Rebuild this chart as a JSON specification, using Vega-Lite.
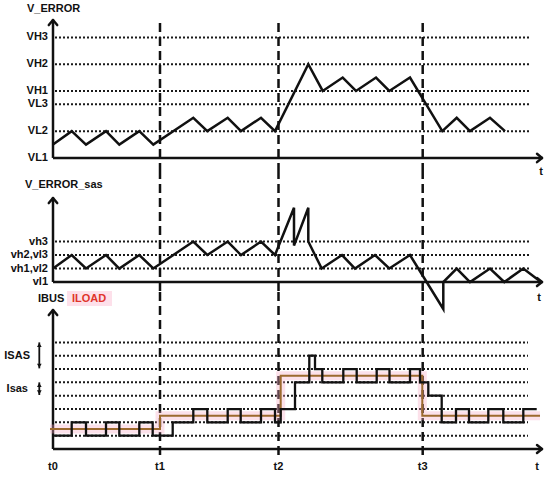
{
  "$schema": "https://vega.github.io/schema/vega-lite/v6.json",
  "padding": 0,
  "spacing": 0,
  "bounds": "flush",
  "background": "white",
  "config": {
    "view": {"stroke": null},
    "text": {"font": "Liberation Sans", "fontWeight": "bold", "fontSize": 11, "color": "#111", "baseline": "middle"}
  },
  "datasets": {
    "anno": [{}],
    "levels": [
      {"panel": 1, "label": "VH3", "level": 9},
      {"panel": 1, "label": "VH2", "level": 7},
      {"panel": 1, "label": "VH1", "level": 5},
      {"panel": 1, "label": "VL3", "level": 4},
      {"panel": 1, "label": "VL2", "level": 2},
      {"panel": 1, "label": "VL1", "level": 0},
      {"panel": 2, "label": "vh3", "level": 3},
      {"panel": 2, "label": "vh2,vl3", "level": 2},
      {"panel": 2, "label": "vh1,vl2", "level": 1},
      {"panel": 2, "label": "vl1", "level": 0},
      {"panel": 3, "label": "", "level": 1},
      {"panel": 3, "label": "", "level": 2},
      {"panel": 3, "label": "", "level": 3},
      {"panel": 3, "label": "", "level": 4},
      {"panel": 3, "label": "", "level": 5},
      {"panel": 3, "label": "", "level": 6},
      {"panel": 3, "label": "", "level": 7},
      {"panel": 3, "label": "", "level": 8}
    ],
    "times": [
      {"label": "t0", "t": 0},
      {"label": "t1", "t": 10.7},
      {"label": "t2", "t": 22.55},
      {"label": "t3", "t": 36.97}
    ],
    "verror": [
      {"t": 0, "v": 1}, {"t": 1.87, "v": 2}, {"t": 3.3, "v": 1}, {"t": 5.3, "v": 2},
      {"t": 6.63, "v": 1}, {"t": 8.63, "v": 2}, {"t": 10.03, "v": 1}, {"t": 14.03, "v": 3},
      {"t": 15.43, "v": 2}, {"t": 17.47, "v": 3}, {"t": 18.8, "v": 2}, {"t": 20.8, "v": 3},
      {"t": 22.2, "v": 2}, {"t": 25.53, "v": 7}, {"t": 26.97, "v": 5}, {"t": 28.97, "v": 6},
      {"t": 30.3, "v": 5}, {"t": 32.3, "v": 6}, {"t": 33.63, "v": 5}, {"t": 35.7, "v": 6},
      {"t": 38.93, "v": 2}, {"t": 40.37, "v": 3}, {"t": 41.7, "v": 2}, {"t": 43.7, "v": 3},
      {"t": 45.2, "v": 2}
    ],
    "verror_sas": [
      {"t": 0, "v": 1}, {"t": 1.87, "v": 2}, {"t": 3.3, "v": 1}, {"t": 5.3, "v": 2},
      {"t": 6.63, "v": 1}, {"t": 8.63, "v": 2}, {"t": 10.03, "v": 1}, {"t": 14.03, "v": 3},
      {"t": 15.43, "v": 2}, {"t": 17.47, "v": 3}, {"t": 18.8, "v": 2}, {"t": 20.8, "v": 3},
      {"t": 22.2, "v": 2}, {"t": 24.1, "v": 5.5}, {"t": 24.1, "v": 2.7}, {"t": 25.53, "v": 5.5},
      {"t": 25.53, "v": 3}, {"t": 26.87, "v": 1}, {"t": 28.9, "v": 2}, {"t": 30.2, "v": 1},
      {"t": 32.2, "v": 2}, {"t": 33.63, "v": 1}, {"t": 35.7, "v": 2}, {"t": 39.03, "v": -2},
      {"t": 39.03, "v": 0}, {"t": 40.37, "v": 1}, {"t": 41.7, "v": 0}, {"t": 43.7, "v": 1},
      {"t": 45.13, "v": 0}, {"t": 47.03, "v": 1}, {"t": 48.8, "v": 0}
    ],
    "ibus": [
      {"t": 0, "i": 1}, {"t": 1.87, "i": 2}, {"t": 3.3, "i": 1}, {"t": 5.3, "i": 2},
      {"t": 6.63, "i": 1}, {"t": 8.63, "i": 2}, {"t": 9.97, "i": 1}, {"t": 11.97, "i": 2},
      {"t": 14.03, "i": 3}, {"t": 15.43, "i": 2}, {"t": 17.47, "i": 3}, {"t": 18.77, "i": 2},
      {"t": 20.8, "i": 3}, {"t": 22.2, "i": 2}, {"t": 22.77, "i": 3}, {"t": 24.2, "i": 5},
      {"t": 25.63, "i": 7}, {"t": 26.2, "i": 6}, {"t": 26.93, "i": 5}, {"t": 29.03, "i": 6},
      {"t": 30.37, "i": 5}, {"t": 32.37, "i": 6}, {"t": 33.65, "i": 5}, {"t": 35.7, "i": 6},
      {"t": 36.7, "i": 5}, {"t": 37.53, "i": 4}, {"t": 38.87, "i": 2}, {"t": 40.3, "i": 3},
      {"t": 41.6, "i": 2}, {"t": 43.53, "i": 3}, {"t": 45.03, "i": 2}, {"t": 47.03, "i": 3},
      {"t": 48.37, "i": 3}
    ],
    "iload": [
      {"t": -0.3, "i": 1.5}, {"t": 10.7, "i": 2.5}, {"t": 22.77, "i": 5.5},
      {"t": 36.93, "i": 2.5}, {"t": 48.7, "i": 2.5}
    ]
  },
  "vconcat": [
    {
      "width": 550,
      "height": 170,
      "layer": [
        {
          "data": {"name": "levels"},
          "transform": [{"filter": "datum.panel == 1 && datum.level > 0"}],
          "mark": {"type": "rule", "strokeDash": [2, 2], "strokeWidth": 2, "color": "#1a1a1a"},
          "encoding": {
            "y": {"field": "level", "type": "quantitative", "scale": {"domain": [-0.9, 11.79], "nice": false, "zero": false}, "axis": null},
            "x": {"datum": 0.2, "type": "quantitative", "scale": {"domain": [-5.3, 49.7], "nice": false, "zero": false}, "axis": null},
            "x2": {"datum": 47.7}
          }
        },
        {
          "data": {"name": "levels"},
          "transform": [{"filter": "datum.panel == 1"}],
          "mark": {"type": "text", "align": "right"},
          "encoding": {
            "y": {"field": "level", "type": "quantitative", "scale": {"domain": [-0.9, 11.79], "nice": false, "zero": false}, "axis": null},
            "x": {"datum": -0.5, "type": "quantitative", "scale": {"domain": [-5.3, 49.7], "nice": false, "zero": false}, "axis": null},
            "text": {"field": "label"}
          }
        },
        {
          "data": {"name": "times"},
          "transform": [{"filter": "datum.t > 0"}],
          "mark": {"type": "rule", "strokeDash": [9, 5], "strokeWidth": 2.5, "color": "#111"},
          "encoding": {
            "x": {"field": "t", "type": "quantitative", "scale": {"domain": [-5.3, 49.7], "nice": false, "zero": false}, "axis": null},
            "y": {"datum": 10.07, "type": "quantitative", "scale": {"domain": [-0.9, 11.79], "nice": false, "zero": false}, "axis": null},
            "y2": {"datum": -0.9}
          }
        },
        {
          "data": {"name": "anno"},
          "mark": {"type": "rule", "strokeWidth": 2.5, "color": "#111"},
          "encoding": {
            "x": {"datum": 0, "type": "quantitative", "scale": {"domain": [-5.3, 49.7], "nice": false, "zero": false}, "axis": null},
            "x2": {"datum": 48.85},
            "y": {"datum": 0, "type": "quantitative", "scale": {"domain": [-0.9, 11.79], "nice": false, "zero": false}, "axis": null}
          }
        },
        {
          "data": {"name": "anno"},
          "mark": {"type": "rule", "strokeWidth": 2.5, "color": "#111"},
          "encoding": {
            "x": {"datum": 0, "type": "quantitative", "scale": {"domain": [-5.3, 49.7], "nice": false, "zero": false}, "axis": null},
            "y": {"datum": 0, "type": "quantitative", "scale": {"domain": [-0.9, 11.79], "nice": false, "zero": false}, "axis": null},
            "y2": {"datum": 10.3}
          }
        },
        {
          "data": {"name": "anno"},
          "mark": {"type": "rule", "strokeWidth": 2.5, "color": "#111", "strokeCap": "round"},
          "encoding": {
            "x": {"datum": 0, "type": "quantitative", "scale": {"domain": [-5.3, 49.7], "nice": false, "zero": false}, "axis": null},
            "x2": {"datum": -0.42},
            "y": {"datum": 10.3, "type": "quantitative", "scale": {"domain": [-0.9, 11.79], "nice": false, "zero": false}, "axis": null},
            "y2": {"datum": 9.92}
          }
        },
        {
          "data": {"name": "anno"},
          "mark": {"type": "rule", "strokeWidth": 2.5, "color": "#111", "strokeCap": "round"},
          "encoding": {
            "x": {"datum": 0, "type": "quantitative", "scale": {"domain": [-5.3, 49.7], "nice": false, "zero": false}, "axis": null},
            "x2": {"datum": 0.42},
            "y": {"datum": 10.3, "type": "quantitative", "scale": {"domain": [-0.9, 11.79], "nice": false, "zero": false}, "axis": null},
            "y2": {"datum": 9.92}
          }
        },
        {
          "data": {"name": "anno"},
          "mark": {"type": "rule", "strokeWidth": 2.5, "color": "#111", "strokeCap": "round"},
          "encoding": {
            "x": {"datum": 48.9, "type": "quantitative", "scale": {"domain": [-5.3, 49.7], "nice": false, "zero": false}, "axis": null},
            "x2": {"datum": 48.4},
            "y": {"datum": 0, "type": "quantitative", "scale": {"domain": [-0.9, 11.79], "nice": false, "zero": false}, "axis": null},
            "y2": {"datum": 0.31}
          }
        },
        {
          "data": {"name": "anno"},
          "mark": {"type": "rule", "strokeWidth": 2.5, "color": "#111", "strokeCap": "round"},
          "encoding": {
            "x": {"datum": 48.9, "type": "quantitative", "scale": {"domain": [-5.3, 49.7], "nice": false, "zero": false}, "axis": null},
            "x2": {"datum": 48.4},
            "y": {"datum": 0, "type": "quantitative", "scale": {"domain": [-0.9, 11.79], "nice": false, "zero": false}, "axis": null},
            "y2": {"datum": -0.31}
          }
        },
        {
          "data": {"name": "verror"},
          "mark": {"type": "line", "strokeWidth": 2.5, "color": "#111"},
          "encoding": {
            "x": {"field": "t", "type": "quantitative", "scale": {"domain": [-5.3, 49.7], "nice": false, "zero": false}, "axis": null},
            "y": {"field": "v", "type": "quantitative", "scale": {"domain": [-0.9, 11.79], "nice": false, "zero": false}, "axis": null},
            "order": {"value": null}
          }
        },
        {
          "data": {"name": "anno"},
          "mark": {"type": "text", "align": "left"},
          "encoding": {
            "x": {"datum": -2.6, "type": "quantitative", "scale": {"domain": [-5.3, 49.7], "nice": false, "zero": false}, "axis": null},
            "y": {"datum": 11.1, "type": "quantitative", "scale": {"domain": [-0.9, 11.79], "nice": false, "zero": false}, "axis": null},
            "text": {"value": "V_ERROR"}
          }
        },
        {
          "data": {"name": "anno"},
          "mark": {"type": "text", "align": "center"},
          "encoding": {
            "x": {"datum": 48.8, "type": "quantitative", "scale": {"domain": [-5.3, 49.7], "nice": false, "zero": false}, "axis": null},
            "y": {"datum": -1.04, "type": "quantitative", "scale": {"domain": [-0.9, 11.79], "nice": false, "zero": false}, "axis": null},
            "text": {"value": "t"}
          }
        }
      ]
    },
    {
      "width": 550,
      "height": 122,
      "layer": [
        {
          "data": {"name": "levels"},
          "transform": [{"filter": "datum.panel == 2 && datum.level > 0"}],
          "mark": {"type": "rule", "strokeDash": [2, 2], "strokeWidth": 2, "color": "#1a1a1a"},
          "encoding": {
            "y": {"field": "level", "type": "quantitative", "scale": {"domain": [-0.74, 8.3], "nice": false, "zero": false}, "axis": null},
            "x": {"datum": 0.2, "type": "quantitative", "scale": {"domain": [-5.3, 49.7], "nice": false, "zero": false}, "axis": null},
            "x2": {"datum": 47.7}
          }
        },
        {
          "data": {"name": "levels"},
          "transform": [{"filter": "datum.panel == 2"}],
          "mark": {"type": "text", "align": "right"},
          "encoding": {
            "y": {"field": "level", "type": "quantitative", "scale": {"domain": [-0.74, 8.3], "nice": false, "zero": false}, "axis": null},
            "x": {"datum": -0.5, "type": "quantitative", "scale": {"domain": [-5.3, 49.7], "nice": false, "zero": false}, "axis": null},
            "text": {"field": "label"}
          }
        },
        {
          "data": {"name": "times"},
          "transform": [{"filter": "datum.t > 0"}],
          "mark": {"type": "rule", "strokeDash": [9, 5], "strokeWidth": 2.5, "color": "#111"},
          "encoding": {
            "x": {"field": "t", "type": "quantitative", "scale": {"domain": [-5.3, 49.7], "nice": false, "zero": false}, "axis": null},
            "y": {"datum": 8.3, "type": "quantitative", "scale": {"domain": [-0.74, 8.3], "nice": false, "zero": false}, "axis": null},
            "y2": {"datum": -0.74}
          }
        },
        {
          "data": {"name": "anno"},
          "mark": {"type": "rule", "strokeWidth": 2.5, "color": "#111"},
          "encoding": {
            "x": {"datum": 0, "type": "quantitative", "scale": {"domain": [-5.3, 49.7], "nice": false, "zero": false}, "axis": null},
            "x2": {"datum": 48.85},
            "y": {"datum": 0, "type": "quantitative", "scale": {"domain": [-0.74, 8.3], "nice": false, "zero": false}, "axis": null}
          }
        },
        {
          "data": {"name": "anno"},
          "mark": {"type": "rule", "strokeWidth": 2.5, "color": "#111"},
          "encoding": {
            "x": {"datum": 0, "type": "quantitative", "scale": {"domain": [-5.3, 49.7], "nice": false, "zero": false}, "axis": null},
            "y": {"datum": 0, "type": "quantitative", "scale": {"domain": [-0.74, 8.3], "nice": false, "zero": false}, "axis": null},
            "y2": {"datum": 6.22}
          }
        },
        {
          "data": {"name": "anno"},
          "mark": {"type": "rule", "strokeWidth": 2.5, "color": "#111", "strokeCap": "round"},
          "encoding": {
            "x": {"datum": 0, "type": "quantitative", "scale": {"domain": [-5.3, 49.7], "nice": false, "zero": false}, "axis": null},
            "x2": {"datum": -0.42},
            "y": {"datum": 6.22, "type": "quantitative", "scale": {"domain": [-0.74, 8.3], "nice": false, "zero": false}, "axis": null},
            "y2": {"datum": 5.85}
          }
        },
        {
          "data": {"name": "anno"},
          "mark": {"type": "rule", "strokeWidth": 2.5, "color": "#111", "strokeCap": "round"},
          "encoding": {
            "x": {"datum": 0, "type": "quantitative", "scale": {"domain": [-5.3, 49.7], "nice": false, "zero": false}, "axis": null},
            "x2": {"datum": 0.42},
            "y": {"datum": 6.22, "type": "quantitative", "scale": {"domain": [-0.74, 8.3], "nice": false, "zero": false}, "axis": null},
            "y2": {"datum": 5.85}
          }
        },
        {
          "data": {"name": "anno"},
          "mark": {"type": "rule", "strokeWidth": 2.5, "color": "#111", "strokeCap": "round"},
          "encoding": {
            "x": {"datum": 48.9, "type": "quantitative", "scale": {"domain": [-5.3, 49.7], "nice": false, "zero": false}, "axis": null},
            "x2": {"datum": 48.4},
            "y": {"datum": 0, "type": "quantitative", "scale": {"domain": [-0.74, 8.3], "nice": false, "zero": false}, "axis": null},
            "y2": {"datum": 0.3}
          }
        },
        {
          "data": {"name": "anno"},
          "mark": {"type": "rule", "strokeWidth": 2.5, "color": "#111", "strokeCap": "round"},
          "encoding": {
            "x": {"datum": 48.9, "type": "quantitative", "scale": {"domain": [-5.3, 49.7], "nice": false, "zero": false}, "axis": null},
            "x2": {"datum": 48.4},
            "y": {"datum": 0, "type": "quantitative", "scale": {"domain": [-0.74, 8.3], "nice": false, "zero": false}, "axis": null},
            "y2": {"datum": -0.3}
          }
        },
        {
          "data": {"name": "verror_sas"},
          "mark": {"type": "line", "strokeWidth": 2.5, "color": "#111"},
          "encoding": {
            "x": {"field": "t", "type": "quantitative", "scale": {"domain": [-5.3, 49.7], "nice": false, "zero": false}, "axis": null},
            "y": {"field": "v", "type": "quantitative", "scale": {"domain": [-0.74, 8.3], "nice": false, "zero": false}, "axis": null},
            "order": {"value": null}
          }
        },
        {
          "data": {"name": "anno"},
          "mark": {"type": "text", "align": "left"},
          "encoding": {
            "x": {"datum": -2.8, "type": "quantitative", "scale": {"domain": [-5.3, 49.7], "nice": false, "zero": false}, "axis": null},
            "y": {"datum": 7.19, "type": "quantitative", "scale": {"domain": [-0.74, 8.3], "nice": false, "zero": false}, "axis": null},
            "text": {"value": "V_ERROR_sas"}
          }
        },
        {
          "data": {"name": "anno"},
          "mark": {"type": "text", "align": "center"},
          "encoding": {
            "x": {"datum": 48.6, "type": "quantitative", "scale": {"domain": [-5.3, 49.7], "nice": false, "zero": false}, "axis": null},
            "y": {"datum": -1.19, "type": "quantitative", "scale": {"domain": [-0.74, 8.3], "nice": false, "zero": false}, "axis": null},
            "text": {"value": "t"}
          }
        }
      ]
    },
    {
      "width": 550,
      "height": 187,
      "layer": [
        {
          "data": {"name": "levels"},
          "transform": [{"filter": "datum.panel == 3"}],
          "mark": {"type": "rule", "strokeDash": [2, 2], "strokeWidth": 2, "color": "#1a1a1a"},
          "encoding": {
            "y": {"field": "level", "type": "quantitative", "scale": {"domain": [-2.25, 11.78], "nice": false, "zero": false}, "axis": null},
            "x": {"datum": 0.2, "type": "quantitative", "scale": {"domain": [-5.3, 49.7], "nice": false, "zero": false}, "axis": null},
            "x2": {"datum": 47.5}
          }
        },
        {
          "data": {"name": "times"},
          "transform": [{"filter": "datum.t > 0"}],
          "mark": {"type": "rule", "strokeDash": [9, 5], "strokeWidth": 2.5, "color": "#111"},
          "encoding": {
            "x": {"field": "t", "type": "quantitative", "scale": {"domain": [-5.3, 49.7], "nice": false, "zero": false}, "axis": null},
            "y": {"datum": 11.78, "type": "quantitative", "scale": {"domain": [-2.25, 11.78], "nice": false, "zero": false}, "axis": null},
            "y2": {"datum": -0.83}
          }
        },
        {
          "data": {"name": "times"},
          "mark": {"type": "text", "align": "center"},
          "encoding": {
            "x": {"field": "t", "type": "quantitative", "scale": {"domain": [-5.3, 49.7], "nice": false, "zero": false}, "axis": null},
            "y": {"datum": -1.35, "type": "quantitative", "scale": {"domain": [-2.25, 11.78], "nice": false, "zero": false}, "axis": null},
            "text": {"field": "label"}
          }
        },
        {
          "data": {"name": "anno"},
          "mark": {"type": "text", "align": "center"},
          "encoding": {
            "x": {"datum": 48.4, "type": "quantitative", "scale": {"domain": [-5.3, 49.7], "nice": false, "zero": false}, "axis": null},
            "y": {"datum": -1.35, "type": "quantitative", "scale": {"domain": [-2.25, 11.78], "nice": false, "zero": false}, "axis": null},
            "text": {"value": "t"}
          }
        },
        {
          "data": {"name": "anno"},
          "mark": {"type": "rule", "strokeWidth": 2.5, "color": "#111"},
          "encoding": {
            "x": {"datum": 0, "type": "quantitative", "scale": {"domain": [-5.3, 49.7], "nice": false, "zero": false}, "axis": null},
            "x2": {"datum": 48.85},
            "y": {"datum": 0, "type": "quantitative", "scale": {"domain": [-2.25, 11.78], "nice": false, "zero": false}, "axis": null}
          }
        },
        {
          "data": {"name": "anno"},
          "mark": {"type": "rule", "strokeWidth": 2.5, "color": "#111"},
          "encoding": {
            "x": {"datum": 0, "type": "quantitative", "scale": {"domain": [-5.3, 49.7], "nice": false, "zero": false}, "axis": null},
            "y": {"datum": 0, "type": "quantitative", "scale": {"domain": [-2.25, 11.78], "nice": false, "zero": false}, "axis": null},
            "y2": {"datum": 10.43}
          }
        },
        {
          "data": {"name": "anno"},
          "mark": {"type": "rule", "strokeWidth": 2.5, "color": "#111", "strokeCap": "round"},
          "encoding": {
            "x": {"datum": 0, "type": "quantitative", "scale": {"domain": [-5.3, 49.7], "nice": false, "zero": false}, "axis": null},
            "x2": {"datum": -0.42},
            "y": {"datum": 10.43, "type": "quantitative", "scale": {"domain": [-2.25, 11.78], "nice": false, "zero": false}, "axis": null},
            "y2": {"datum": 10.05}
          }
        },
        {
          "data": {"name": "anno"},
          "mark": {"type": "rule", "strokeWidth": 2.5, "color": "#111", "strokeCap": "round"},
          "encoding": {
            "x": {"datum": 0, "type": "quantitative", "scale": {"domain": [-5.3, 49.7], "nice": false, "zero": false}, "axis": null},
            "x2": {"datum": 0.42},
            "y": {"datum": 10.43, "type": "quantitative", "scale": {"domain": [-2.25, 11.78], "nice": false, "zero": false}, "axis": null},
            "y2": {"datum": 10.05}
          }
        },
        {
          "data": {"name": "anno"},
          "mark": {"type": "rule", "strokeWidth": 2.5, "color": "#111", "strokeCap": "round"},
          "encoding": {
            "x": {"datum": 48.9, "type": "quantitative", "scale": {"domain": [-5.3, 49.7], "nice": false, "zero": false}, "axis": null},
            "x2": {"datum": 48.4},
            "y": {"datum": 0, "type": "quantitative", "scale": {"domain": [-2.25, 11.78], "nice": false, "zero": false}, "axis": null},
            "y2": {"datum": 0.3}
          }
        },
        {
          "data": {"name": "anno"},
          "mark": {"type": "rule", "strokeWidth": 2.5, "color": "#111", "strokeCap": "round"},
          "encoding": {
            "x": {"datum": 48.9, "type": "quantitative", "scale": {"domain": [-5.3, 49.7], "nice": false, "zero": false}, "axis": null},
            "x2": {"datum": 48.4},
            "y": {"datum": 0, "type": "quantitative", "scale": {"domain": [-2.25, 11.78], "nice": false, "zero": false}, "axis": null},
            "y2": {"datum": -0.3}
          }
        },
        {
          "data": {"name": "iload"},
          "mark": {"type": "line", "interpolate": "step-after", "strokeWidth": 9, "color": "#f7a8c4", "opacity": 0.35},
          "encoding": {
            "x": {"field": "t", "type": "quantitative", "scale": {"domain": [-5.3, 49.7], "nice": false, "zero": false}, "axis": null},
            "y": {"field": "i", "type": "quantitative", "scale": {"domain": [-2.25, 11.78], "nice": false, "zero": false}, "axis": null}
          }
        },
        {
          "data": {"name": "iload"},
          "mark": {"type": "line", "interpolate": "step-after", "strokeWidth": 2, "color": "#9c6a2e"},
          "encoding": {
            "x": {"field": "t", "type": "quantitative", "scale": {"domain": [-5.3, 49.7], "nice": false, "zero": false}, "axis": null},
            "y": {"field": "i", "type": "quantitative", "scale": {"domain": [-2.25, 11.78], "nice": false, "zero": false}, "axis": null}
          }
        },
        {
          "data": {"name": "ibus"},
          "mark": {"type": "line", "interpolate": "step-after", "strokeWidth": 2.3, "color": "#111"},
          "encoding": {
            "x": {"field": "t", "type": "quantitative", "scale": {"domain": [-5.3, 49.7], "nice": false, "zero": false}, "axis": null},
            "y": {"field": "i", "type": "quantitative", "scale": {"domain": [-2.25, 11.78], "nice": false, "zero": false}, "axis": null}
          }
        },
        {
          "data": {"name": "anno"},
          "mark": {"type": "text", "align": "left"},
          "encoding": {
            "x": {"datum": -1.5, "type": "quantitative", "scale": {"domain": [-5.3, 49.7], "nice": false, "zero": false}, "axis": null},
            "y": {"datum": 11.25, "type": "quantitative", "scale": {"domain": [-2.25, 11.78], "nice": false, "zero": false}, "axis": null},
            "text": {"value": "IBUS"}
          }
        },
        {
          "data": {"name": "anno"},
          "mark": {"type": "rect", "color": "#fde0ea"},
          "encoding": {
            "x": {"datum": 1.4, "type": "quantitative", "scale": {"domain": [-5.3, 49.7], "nice": false, "zero": false}, "axis": null},
            "x2": {"datum": 5.9},
            "y": {"datum": 11.85, "type": "quantitative", "scale": {"domain": [-2.25, 11.78], "nice": false, "zero": false}, "axis": null},
            "y2": {"datum": 10.73}
          }
        },
        {
          "data": {"name": "anno"},
          "mark": {"type": "text", "align": "left", "color": "#e0352b"},
          "encoding": {
            "x": {"datum": 1.9, "type": "quantitative", "scale": {"domain": [-5.3, 49.7], "nice": false, "zero": false}, "axis": null},
            "y": {"datum": 11.25, "type": "quantitative", "scale": {"domain": [-2.25, 11.78], "nice": false, "zero": false}, "axis": null},
            "text": {"value": "ILOAD"}
          }
        },
        {
          "data": {"name": "anno"},
          "mark": {"type": "text", "align": "right"},
          "encoding": {
            "x": {"datum": -2.3, "type": "quantitative", "scale": {"domain": [-5.3, 49.7], "nice": false, "zero": false}, "axis": null},
            "y": {"datum": 6.95, "type": "quantitative", "scale": {"domain": [-2.25, 11.78], "nice": false, "zero": false}, "axis": null},
            "text": {"value": "ISAS"}
          }
        },
        {
          "data": {"name": "anno"},
          "mark": {"type": "text", "align": "right"},
          "encoding": {
            "x": {"datum": -2.5, "type": "quantitative", "scale": {"domain": [-5.3, 49.7], "nice": false, "zero": false}, "axis": null},
            "y": {"datum": 4.5, "type": "quantitative", "scale": {"domain": [-2.25, 11.78], "nice": false, "zero": false}, "axis": null},
            "text": {"value": "Isas"}
          }
        },
        {
          "data": {"name": "anno"},
          "mark": {"type": "rule", "strokeWidth": 1.8, "color": "#111"},
          "encoding": {
            "x": {"datum": -1.37, "type": "quantitative", "scale": {"domain": [-5.3, 49.7], "nice": false, "zero": false}, "axis": null},
            "y": {"datum": 8.0, "type": "quantitative", "scale": {"domain": [-2.25, 11.78], "nice": false, "zero": false}, "axis": null},
            "y2": {"datum": 6.05}
          }
        },
        {
          "data": {"name": "anno"},
          "mark": {"type": "rule", "strokeWidth": 1.8, "color": "#111"},
          "encoding": {
            "x": {"datum": -1.37, "type": "quantitative", "scale": {"domain": [-5.3, 49.7], "nice": false, "zero": false}, "axis": null},
            "y": {"datum": 5.0, "type": "quantitative", "scale": {"domain": [-2.25, 11.78], "nice": false, "zero": false}, "axis": null},
            "y2": {"datum": 4.05}
          }
        },
        {
          "data": {"name": "anno"},
          "mark": {"type": "point", "shape": "triangle-up", "size": 22, "filled": true, "color": "#111", "opacity": 1},
          "encoding": {
            "x": {"datum": -1.37, "type": "quantitative", "scale": {"domain": [-5.3, 49.7], "nice": false, "zero": false}, "axis": null},
            "y": {"datum": 7.8, "type": "quantitative", "scale": {"domain": [-2.25, 11.78], "nice": false, "zero": false}, "axis": null}
          }
        },
        {
          "data": {"name": "anno"},
          "mark": {"type": "point", "shape": "triangle-down", "size": 22, "filled": true, "color": "#111", "opacity": 1},
          "encoding": {
            "x": {"datum": -1.37, "type": "quantitative", "scale": {"domain": [-5.3, 49.7], "nice": false, "zero": false}, "axis": null},
            "y": {"datum": 6.25, "type": "quantitative", "scale": {"domain": [-2.25, 11.78], "nice": false, "zero": false}, "axis": null}
          }
        },
        {
          "data": {"name": "anno"},
          "mark": {"type": "point", "shape": "triangle-up", "size": 22, "filled": true, "color": "#111", "opacity": 1},
          "encoding": {
            "x": {"datum": -1.37, "type": "quantitative", "scale": {"domain": [-5.3, 49.7], "nice": false, "zero": false}, "axis": null},
            "y": {"datum": 4.8, "type": "quantitative", "scale": {"domain": [-2.25, 11.78], "nice": false, "zero": false}, "axis": null}
          }
        },
        {
          "data": {"name": "anno"},
          "mark": {"type": "point", "shape": "triangle-down", "size": 22, "filled": true, "color": "#111", "opacity": 1},
          "encoding": {
            "x": {"datum": -1.37, "type": "quantitative", "scale": {"domain": [-5.3, 49.7], "nice": false, "zero": false}, "axis": null},
            "y": {"datum": 4.25, "type": "quantitative", "scale": {"domain": [-2.25, 11.78], "nice": false, "zero": false}, "axis": null}
          }
        }
      ]
    }
  ]
}
